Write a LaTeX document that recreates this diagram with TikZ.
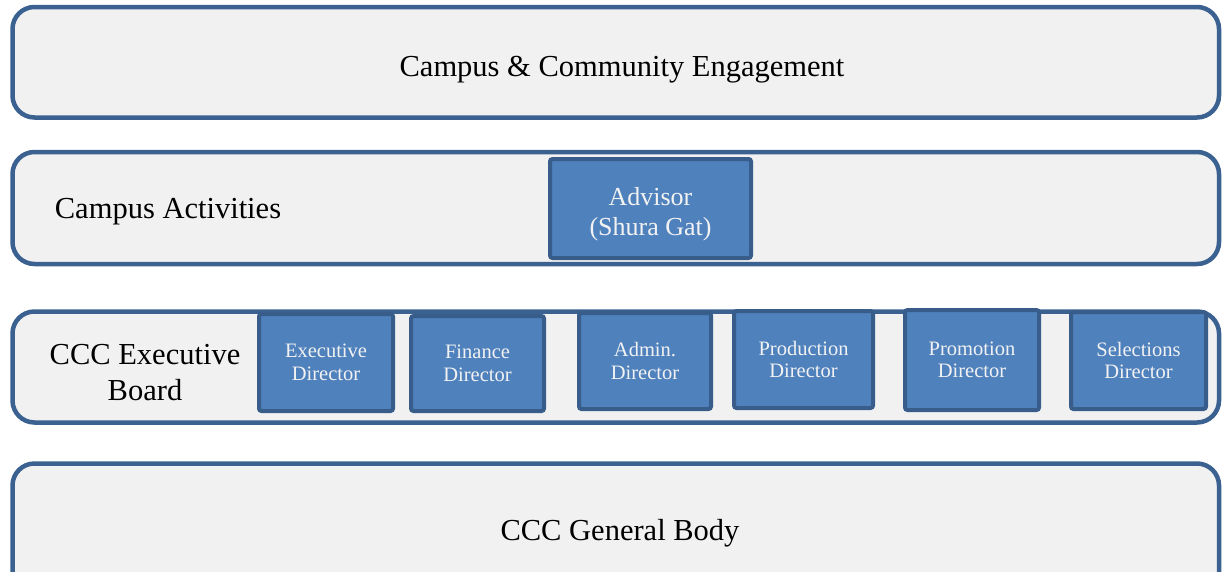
\documentclass[tikz,border=0pt]{standalone}
\usepackage{fontspec}
\setmainfont{Liberation Serif}
\definecolor{barfill}{HTML}{F1F1F1}
\definecolor{barline}{HTML}{3B6191}
\definecolor{boxfill}{HTML}{4F81BD}
\definecolor{boxline}{HTML}{385D8A}
\definecolor{boxtext}{HTML}{F2F2F2}
\tikzset{
  bar/.style={draw=barline, fill=barfill, line width=4.5pt, rounded corners=22pt},
  dirbox/.style={draw=boxline, fill=boxfill, line width=4pt, rounded corners=2.5pt,
    text=boxtext, align=center, inner sep=0pt, font=\fontsize{20.5}{22.5}\selectfont},
  advbox/.style={dirbox, font=\fontsize{26}{30}\selectfont},
  bigtext/.style={inner sep=0pt, align=center, text=black, font=\fontsize{30.5}{36}\selectfont},
}
\begin{document}
\begin{tikzpicture}[x=1pt,y=-1pt]
\useasboundingbox (0,0) rectangle (1222,571);
\clip (0,0) rectangle (1222,571);
% bars
\draw[bar] (12.5,7) rectangle (1219,117.5);
\draw[bar] (12.5,152) rectangle (1219,264);
\draw[bar] (12.5,311.5) rectangle (1219,422.5);
\draw[bar] (12.5,463.5) rectangle (1219,620);
% bar labels
\node[bigtext] (cce) at (622,70) {Campus \& Community Engagement};
\node[bigtext] (ca) at (168,212) {Campus Activities};
\node[bigtext] (eb) at (145,373) {CCC Executive\\Board};
\node[bigtext] (gb) at (620,533) {CCC General Body};
% advisor
\node[advbox, minimum width=201pt, minimum height=99pt] (adv) at (650.5,208.5) {\raisebox{-6pt}[\height][\depth]{\begin{tabular}{@{}c@{}}Advisor\\(Shura Gat)\end{tabular}}};
% directors
\node[dirbox, minimum width=134pt, minimum height=97pt] (exd) at (326,362.5) {Executive\\Director};
\node[dirbox, minimum width=133pt, minimum height=95pt] (fin) at (477.5,363.5) {Finance\\Director};
\node[dirbox, minimum width=132pt, minimum height=96pt] (adm) at (645,361) {Admin.\\Director};
\node[dirbox, minimum width=139pt, minimum height=97pt] (pro) at (803.5,359.5) {Production\\Director};
\node[dirbox, minimum width=134pt, minimum height=100pt] (prm) at (972,360) {Promotion\\Director};
\node[dirbox, minimum width=135pt, minimum height=97pt] (sel) at (1138.5,360.5) {Selections\\Director};
\end{tikzpicture}
\end{document}
